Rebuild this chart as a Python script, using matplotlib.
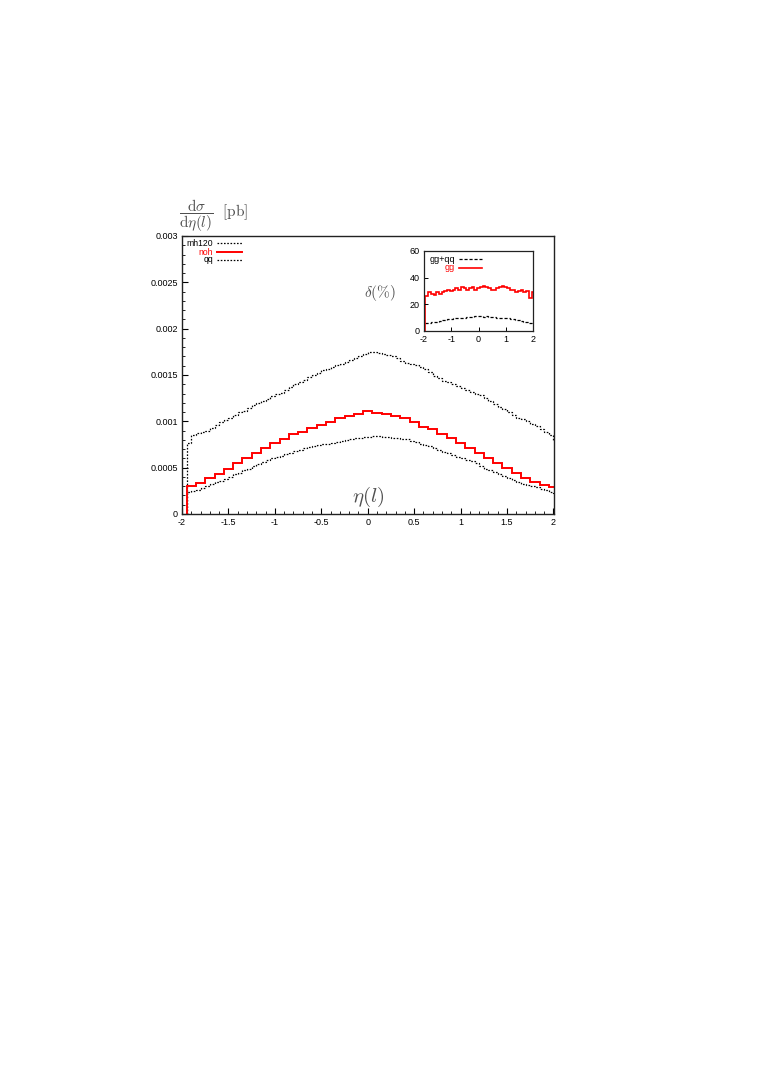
import numpy as np
import matplotlib
matplotlib.use("Agg")
import matplotlib.pyplot as plt
from matplotlib.lines import Line2D

plt.rcParams['font.family'] = ['Liberation Sans', 'DejaVu Sans']
plt.rcParams['mathtext.fontset'] = 'cm'
plt.rcParams['axes.unicode_minus'] = False

# ---------------- data ----------------
# fine-binned (0.05) curves, bins from -1.95 to 2.05
mh120 = [0.00077,
         0.00085, 0.00087, 0.00089, 0.00090, 0.00093, 0.00096, 0.00099, 0.00101, 0.00104, 0.00107,
         0.00110, 0.00111, 0.00114, 0.00118, 0.00120, 0.00122, 0.00124, 0.00127, 0.00129, 0.00131,
         0.00134, 0.00137, 0.00140, 0.00142, 0.00145, 0.00148, 0.00150, 0.00152, 0.00155, 0.00157,
         0.00159, 0.00161, 0.00162, 0.00164, 0.00166, 0.00168, 0.00171, 0.00173,
         0.00175, 0.00175, 0.00174, 0.00173, 0.00172, 0.00170, 0.00168, 0.00165, 0.00163, 0.00162,
         0.00161, 0.00159, 0.00157, 0.00153, 0.00149, 0.00147, 0.00144, 0.00142, 0.00140, 0.00138,
         0.00136, 0.00134, 0.00132, 0.00130, 0.00128, 0.00125, 0.00122, 0.00119, 0.00116, 0.00113,
         0.00110, 0.00107, 0.00104, 0.00102, 0.00100, 0.00097, 0.00095, 0.00092, 0.00089, 0.00085,
         0.00080]
qq = [0.00024,
      0.00025, 0.00026, 0.00028, 0.00030, 0.00032, 0.00034, 0.00036, 0.00038, 0.00040, 0.00043,
      0.00044, 0.00047, 0.00049, 0.00052, 0.00054, 0.00056, 0.00058, 0.00060, 0.00062, 0.00063,
      0.00065, 0.00066, 0.00068, 0.00069, 0.00071, 0.00072, 0.00073, 0.00074, 0.00075, 0.00076,
      0.00077, 0.00078, 0.00079, 0.00080, 0.00081, 0.00082, 0.00082, 0.00083,
      0.00083, 0.00084, 0.00084, 0.00083, 0.00083, 0.00082, 0.00082, 0.00081, 0.00081, 0.00079,
      0.00078, 0.00076, 0.00074, 0.00073, 0.00071, 0.00069, 0.00067, 0.00066, 0.00064, 0.00062,
      0.00060, 0.00058, 0.00057, 0.00055, 0.00052, 0.00049, 0.00047, 0.00045, 0.00043, 0.00041,
      0.00039, 0.00037, 0.00035, 0.00032, 0.00031, 0.00030, 0.00029, 0.00027, 0.00026, 0.00024,
      0.00023]
# coarse-binned (0.1) curve, bins from -1.95 to 2.05
noh = [0.000302, 0.000338, 0.000392, 0.000432, 0.000486, 0.000547, 0.000601, 0.000655, 0.000709, 0.000763,
       0.000809, 0.000860, 0.000888, 0.000931, 0.000960, 0.000996, 0.001039, 0.001058, 0.001079, 0.001111,
       0.001094, 0.001080, 0.001058, 0.001032, 0.000996, 0.000942, 0.000914, 0.000860, 0.000817, 0.000763,
       0.000709, 0.000655, 0.000601, 0.000547, 0.000493, 0.000446, 0.000392, 0.000349, 0.000313, 0.000293]
# inset: delta(%)
delta_gg = [26, 29, 28, 27, 29, 28, 29, 30, 31, 30, 31, 32, 31, 33, 32, 31, 32, 33, 31, 32,
            33, 34, 33, 32, 31, 31, 32, 33, 34, 33, 32, 31, 31, 29, 30, 31, 29, 30, 25, 29]
delta_ggqq = [6, 6, 6.5, 7, 7, 7.5, 8, 8.5, 9, 9, 9.5, 9.5, 10, 10, 10, 10.5, 10.5, 10.5, 11, 11,
              11, 10.5, 11, 10.5, 10.5, 10.5, 10, 10, 10, 9.5, 9.5, 9, 9, 8.5, 8, 7.5, 7, 6.5, 6, 5.5]

xticks = [-2, -1.5, -1, -0.5, 0, 0.5, 1, 1.5, 2]
xticklabels = ['-2', '-1.5', '-1', '-0.5', '0', '0.5', '1', '1.5', '2']
yticks = [0, 0.0005, 0.001, 0.0015, 0.002, 0.0025, 0.003]
yticklabels = ['0', '0.0005', '0.001', '0.0015', '0.002', '0.0025', '0.003']
in_xticks = [-2, -1, 0, 1, 2]
in_xticklabels = ['-2', '-1', '0', '1', '2']
in_yticks = [0, 20, 40, 60]

fine_edges = np.linspace(-1.95, 2.05, len(mh120) + 1)
coarse_edges = np.linspace(-1.95, 2.05, len(noh) + 1)
in_edges = np.linspace(-1.95, 2.05, len(delta_gg) + 1)

LABEL_GRAY = '#505050'
TICK_FS = 6.5

fig = plt.figure(figsize=(7.63, 10.8), dpi=100)
ax = fig.add_axes([182/763, 1-514/1080, (553.5-182)/763, (514-236)/1080])

dot = (0, (1.3, 1.3))
ax.stairs(mh120, fine_edges, baseline=0, color='black', lw=0.9, linestyle=dot)
ax.stairs(qq, fine_edges, baseline=0, color='black', lw=0.9, linestyle=dot)
ax.stairs(noh, coarse_edges, baseline=0, color='#ff0000', lw=1.4)

ax.set_xlim(-2, 2)
ax.set_ylim(0, 0.003)
ax.set_xticks(xticks)
ax.set_xticklabels(xticklabels)
ax.set_yticks(yticks)
ax.set_yticklabels(yticklabels)
ax.set_xticks(np.arange(-2, 2.001, 0.1), minor=True)
ax.set_yticks(np.arange(0, 0.00301, 0.0001), minor=True)
ax.tick_params(which='both', direction='in', top=False, right=False, labelsize=TICK_FS, pad=3)
ax.tick_params(which='major', length=4, width=0.8)
ax.tick_params(which='minor', length=2, width=0.6)
for s in ax.spines.values():
    s.set_linewidth(1.0)
    s.set_color('#222222')

# main legend (text right-aligned, sample to the right)
leg_rows = [('mh120', 'black', dot, 0.9), ('noh', '#ff0000', '-', 1.4), ('qq', 'black', dot, 0.9)]
leg_y = [0.974, 0.9424, 0.9137]
for (lab, col, ls, lw), yy in zip(leg_rows, leg_y):
    ax.text(0.0834, yy, lab, transform=ax.transAxes, ha='right', va='center',
            fontsize=6.2, color=col)
    ax.add_line(Line2D([0.094, 0.1615], [yy, yy], transform=ax.transAxes,
                       color=col, linestyle=ls, lw=lw))

# axis labels (LaTeX-like, gray)
fig.text(179/763, 1-216/1080, r'$\dfrac{\mathrm{d}\sigma}{\mathrm{d}\eta(l)}\ \ [\mathrm{pb}]$',
         fontsize=11, color=LABEL_GRAY, ha='left', va='center')
fig.text(368/763, 1-497/1080, r'$\eta(l)$', fontsize=15, color=LABEL_GRAY,
         ha='center', va='center')

# ---------------- inset ----------------
axi = fig.add_axes([424/763, 1-331/1080, 109/763, 80/1080])
axi.stairs(delta_ggqq, in_edges, baseline=None, color='black', lw=0.9, linestyle=(0, (2.5, 1.5)))
axi.stairs(delta_gg, in_edges, baseline=0, color='#ff0000', lw=1.2)
axi.set_xlim(-2, 2)
axi.set_ylim(0, 60)
axi.set_xticks(in_xticks)
axi.set_xticklabels(in_xticklabels)
axi.set_yticks(in_yticks)
axi.tick_params(which='both', direction='in', top=False, right=False, labelsize=TICK_FS, pad=3,
                length=3, width=0.7)
for s in axi.spines.values():
    s.set_linewidth(0.9)
    s.set_color('#222222')
in_rows = [('gg+qq', 'black', (0, (2.5, 1.5)), 0.9), ('gg', '#ff0000', '-', 1.2)]
in_y = [0.896, 0.7875]
for (lab, col, ls, lw), yy in zip(in_rows, in_y):
    axi.text(0.284, yy, lab, transform=axi.transAxes, ha='right', va='center',
             fontsize=TICK_FS, color=col)
    axi.add_line(Line2D([0.321, 0.532], [yy, yy], transform=axi.transAxes,
                        color=col, linestyle=ls, lw=lw))
fig.text(380/763, 1-293/1080, r'$\delta(\%)$', fontsize=11, color=LABEL_GRAY,
         ha='center', va='center')

fig.savefig('out.png', dpi=100)
